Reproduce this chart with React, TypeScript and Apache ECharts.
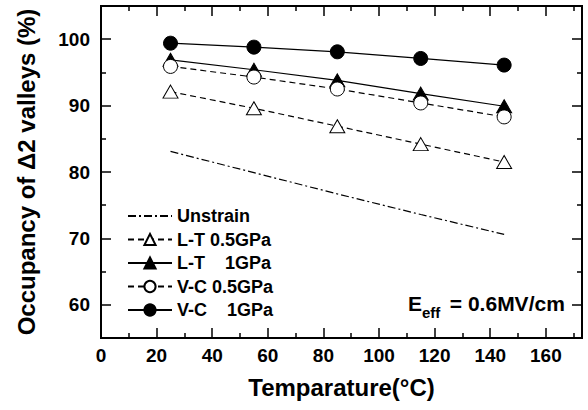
import React, { useEffect, useRef } from "react";
import * as echarts from "echarts";

const temps = [25, 55, 85, 115, 145];
const unstrain = [83.1, 79.9, 76.7, 73.6, 70.6];
const lt05 = [92.1, 89.6, 86.9, 84.2, 81.5];
const lt1 = [96.9, 95.4, 93.8, 91.8, 89.9];
const vc05 = [95.9, 94.3, 92.5, 90.4, 88.3];
const vc1 = [99.4, 98.8, 98.1, 97.1, 96.1];

const seriesNames = [
  "Unstrain",
  "L-T 0.5GPa",
  "L-T\u00a0\u00a0\u00a0\u00a01GPa",
  "V-C 0.5GPa",
  "V-C\u00a0\u00a0\u00a0\u00a01GPa",
];

// axis ranges and tick steps
const X_MIN = 0;
const X_MAX = 173;
const X_MAJOR = 20;
const X_MINOR_START = 10;
const Y_MIN = 55;
const Y_MAX = 105;
const Y_MAJOR_START = 60;
const Y_MAJOR = 10;
const Y_MINOR_START = 65;

const FONT = "'Liberation Sans', Arial, Helvetica, sans-serif";

const zip = (ys: number[]) => temps.map((t, i) => [t, ys[i]]);

export default function App() {
  const ref = useRef<HTMLDivElement>(null);
  useEffect(() => {
    if (!ref.current) return;
    const chart = echarts.init(ref.current, null, { renderer: "svg" });

    const L = 101, R = 6, T = 6, B = 72;
    const W = 588 - L - R;
    const H = 410 - T - B;
    const pxPerX = W / (X_MAX - X_MIN);
    const pxPerY = H / (Y_MAX - Y_MIN);

    const tick = (len: number) => ({ show: true, inside: true, length: len, lineStyle: { color: "#000", width: 1.5 } });
    const labelStyle = { color: "#000", fontSize: 19, fontWeight: "bold", fontFamily: FONT };
    const hiddenX = (gridIndex: number) => ({ type: "value", gridIndex, min: X_MIN, max: X_MAX, show: false });
    const titleStyle = { color: "#000", fontSize: 24, fontWeight: "bold", fontFamily: FONT };

    const lineBase = (name: string, data: number[], symbol: string, size: any, filled: boolean, dash: any, show: boolean) => ({
      name,
      type: "line",
      xAxisIndex: 0,
      yAxisIndex: 0,
      data: zip(data),
      symbol,
      symbolSize: size,
      showSymbol: show,
      itemStyle: show
        ? { color: filled ? "#000" : "#fff", borderColor: "#000", borderWidth: 1 }
        : { color: "transparent", borderColor: "transparent", borderWidth: 0 },
      lineStyle: { color: "#000", width: 1.2, type: dash },
      z: 3,
    });

    chart.setOption({
      animation: false,
      backgroundColor: "#fff",
      grid: [
        // 0: series grid + major x ticks + frame
        { left: L, right: R, top: T, bottom: B, show: true, borderColor: "#000", borderWidth: 2, backgroundColor: "transparent" },
        // 1: major y ticks (60..100)
        { left: L, right: R, top: T, bottom: B + (Y_MAJOR_START - Y_MIN) * pxPerY },
        // 2: minor x ticks (10..170)
        { left: L + (X_MINOR_START - X_MIN) * pxPerX, right: R, top: T, bottom: B },
        // 3: minor y ticks (65..95)
        { left: L, right: R, top: T, bottom: B + (Y_MINOR_START - Y_MIN) * pxPerY },
      ],
      xAxis: [
        {
          type: "value", gridIndex: 0, position: "bottom", min: X_MIN, max: X_MAX, interval: X_MAJOR,
          axisLine: { show: false, onZero: false }, axisTick: tick(10), splitLine: { show: false },
          axisLabel: { ...labelStyle, margin: 8, showMaxLabel: false },
          name: "Temparature(°C)", nameLocation: "middle", nameGap: 37, nameTextStyle: titleStyle,
        },
        {
          type: "value", gridIndex: 0, position: "top", min: X_MIN, max: X_MAX, interval: X_MAJOR,
          axisLine: { show: false, onZero: false }, axisTick: tick(10), splitLine: { show: false }, axisLabel: { show: false },
        },
        hiddenX(1),
        {
          type: "value", gridIndex: 2, position: "bottom", min: X_MINOR_START, max: X_MAX, interval: X_MAJOR,
          axisLine: { show: false, onZero: false }, axisTick: tick(5), splitLine: { show: false }, axisLabel: { show: false },
        },
        {
          type: "value", gridIndex: 2, position: "top", min: X_MINOR_START, max: X_MAX, interval: X_MAJOR,
          axisLine: { show: false, onZero: false }, axisTick: tick(5), splitLine: { show: false }, axisLabel: { show: false },
        },
        hiddenX(3),
      ],
      yAxis: [
        {
          type: "value", gridIndex: 0, position: "left", min: Y_MIN, max: Y_MAX,
          axisLine: { show: false, onZero: false }, axisTick: { show: false }, axisLabel: { show: false }, splitLine: { show: false },
          name: "Occupancy of Δ2 valleys (%)", nameLocation: "middle", nameGap: 63, nameTextStyle: titleStyle,
        },
        {
          type: "value", gridIndex: 1, position: "left", min: Y_MAJOR_START, max: Y_MAX, interval: Y_MAJOR,
          axisLine: { show: false, onZero: false }, axisTick: tick(10), splitLine: { show: false },
          axisLabel: { ...labelStyle, margin: 11, showMaxLabel: false },
        },
        {
          type: "value", gridIndex: 1, position: "right", min: Y_MAJOR_START, max: Y_MAX, interval: Y_MAJOR,
          axisLine: { show: false, onZero: false }, axisTick: tick(10), splitLine: { show: false }, axisLabel: { show: false },
        },
        {
          type: "value", gridIndex: 2, min: Y_MIN, max: Y_MAX, show: false,
        },
        {
          type: "value", gridIndex: 3, position: "left", min: Y_MINOR_START, max: Y_MAX, interval: Y_MAJOR,
          axisLine: { show: false, onZero: false }, axisTick: tick(5), splitLine: { show: false }, axisLabel: { show: false },
        },
        {
          type: "value", gridIndex: 3, position: "right", min: Y_MINOR_START, max: Y_MAX, interval: Y_MAJOR,
          axisLine: { show: false, onZero: false }, axisTick: tick(5), splitLine: { show: false }, axisLabel: { show: false },
        },
      ],
      legend: {
        orient: "vertical",
        left: 122,
        top: 202,
        itemWidth: 44,
        itemHeight: 14,
        itemGap: 5.5,
        data: seriesNames,
        textStyle: { color: "#000", fontSize: 18, fontWeight: "bold", fontFamily: FONT },
      },
      series: [
        lineBase(seriesNames[0], unstrain, "circle", 1, false, [8, 3, 2, 3], false),
        lineBase(seriesNames[1], lt05, "triangle", [15, 13], false, [6, 4], true),
        lineBase(seriesNames[2], lt1, "triangle", [15, 13], true, "solid", true),
        lineBase(seriesNames[3], vc05, "circle", 14, false, [6, 4], true),
        lineBase(seriesNames[4], vc1, "circle", 14, true, "solid", true),
      ],
      graphic: [
        {
          type: "text", x: 408, y: 293,
          style: { text: "E", fill: "#000", fontSize: 21, fontWeight: "bold", fontFamily: FONT, textVerticalAlign: "top" },
        },
        {
          type: "text", x: 422, y: 305,
          style: { text: "eff", fill: "#000", fontSize: 15, fontWeight: "bold", fontFamily: FONT, textVerticalAlign: "top" },
        },
        {
          type: "text", x: 444, y: 293,
          style: { text: " = 0.6MV/cm", fill: "#000", fontSize: 21, fontWeight: "bold", fontFamily: FONT, textVerticalAlign: "top" },
        },
      ],
    });
    return () => chart.dispose();
  }, []);
  return <div ref={ref} style={{ width: 588, height: 410, position: "absolute", left: 0, top: 0 }} />;
}
